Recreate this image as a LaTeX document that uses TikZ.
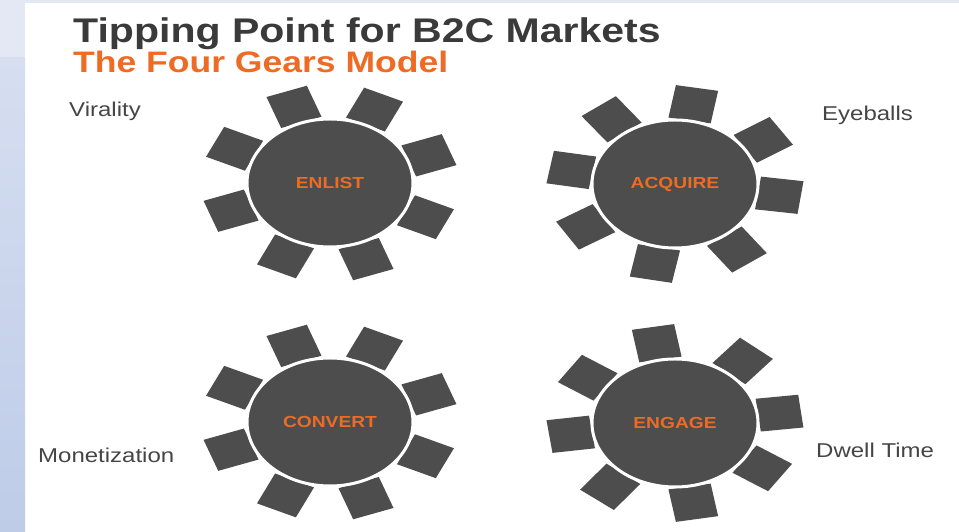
\documentclass[tikz,border=0pt]{standalone}
\usepackage{fontspec}
\setmainfont[FakeStretch=1.2]{Liberation Sans}
\usetikzlibrary{shapes.geometric}

\begin{document}
\begin{tikzpicture}[x=1pt,y=1pt]
	\definecolor{gearcol}{HTML}{4D4D4D}
	\definecolor{titlecol}{HTML}{3A3A3A}
	\definecolor{orangecol}{HTML}{EE6B25}
	\definecolor{textcol}{HTML}{454545}
	\definecolor{bandtop}{HTML}{E4E8F4}
	\definecolor{bandmid}{HTML}{D6DEF0}
	\definecolor{bandbot}{HTML}{BECCE8}
	\tikzset{
		gear/.style={ellipse, fill=gearcol, draw=white, line width=3pt, minimum width=166pt, minimum height=128pt, inner sep=0pt, text=orangecol, font=\fontsize{16}{18}\selectfont\bfseries},
		tooth/.style={fill=gearcol},
		outcome/.style={anchor=base west, inner sep=0pt, text=textcol, font=\fontsize{20}{22}\selectfont},
		heading/.style={anchor=base west, inner sep=0pt, font=\bfseries}
	}
	\useasboundingbox (0,0) rectangle (959,532);
	%% Background ------
	\fill[white] (0,0) rectangle (959,532);
	\fill[bandtop] (0,474) rectangle (25,532);
	\shade[top color=bandmid, bottom color=bandbot] (0,0) rectangle (25,474);
	\fill[bandtop] (0,529) rectangle (959,532);
	%% Titles ------
	\node[heading, text=titlecol, font=\fontsize{34.2}{36}\selectfont\bfseries] (title) at (73,489) {Tipping Point for B2C Markets};
	\node[heading, text=orangecol, font=\fontsize{29.6}{31}\selectfont\bfseries] (subtitle) at (73,459) {The Four Gears Model};
	%% Gears ------
	\begin{scope}[shift={(330,349)}, xscale=1.3]
		\foreach \a in {20,65,...,335}
			\fill[tooth, rotate=\a] (64.5,-16.5) rectangle ++(33,33);
	\end{scope}
	\node[gear] (enlist) at (330,349) {ENLIST};
	\begin{scope}[shift={(675,348)}, xscale=1.3]
		\foreach \a in {80,33,-8,-54,-101,-148,170,127}
			\fill[tooth, rotate=\a] (64.5,-16.5) rectangle ++(33,33);
	\end{scope}
	\node[gear] (acquire) at (675,348) {ACQUIRE};
	\begin{scope}[shift={(330,110)}, xscale=1.3]
		\foreach \a in {20,65,...,335}
			\fill[tooth, rotate=\a] (64.5,-16.5) rectangle ++(33,33);
	\end{scope}
	\node[gear] (convert) at (330,110) {CONVERT};
	\begin{scope}[shift={(675,109)}, xscale=1.3]
		\foreach \a in {100,50,7,-34,-80,-128,-172,146}
			\fill[tooth, rotate=\a] (64.5,-16.5) rectangle ++(33,33);
	\end{scope}
	\node[gear] (engage) at (675,109) {ENGAGE};
	%% Outcomes ------
	\node[outcome] (virality) at (69,415) {Virality};
	\node[outcome] (eyeballs) at (822,411) {Eyeballs};
	\node[outcome] (monetization) at (38,69) {Monetization};
	\node[outcome] (dwell) at (816,74) {Dwell Time};
\end{tikzpicture}
\end{document}
